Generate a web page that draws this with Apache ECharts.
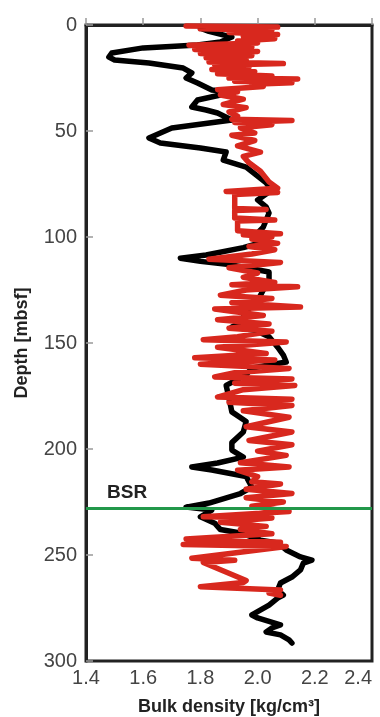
<!DOCTYPE html>
<html>
<head>
<meta charset="utf-8">
<script src="https://cdn.jsdelivr.net/npm/echarts@6/dist/echarts.min.js"></script>
<style>html,body{margin:0;padding:0;background:#fff}#c{width:380px;height:717px}</style>
</head>
<body>
<div id="c"></div>
<script>
// Black curve: [depth (mbsf), bulk density]
const blackDepth = [1.5,3,5.7,8,9.4,10.8,13.2,15.1,16.5,17.9,20.3,22.6,25.0,27.4,30.7,31.6,33.0,35.4,38.7,40.1,41.5,44.8,48.6,53.3,55.7,58.0,59.9,63.7,67.0,74.5,77.8,82.5,85.8,88.7,95.3,98.1,102,105,108.5,110,111.5,113,116.5,120,125,130,135,140.6,142.5,144,147,152,155.7,159,161.8,165,170,176,182.5,187,192,197,200.5,203.8,206.6,208.5,209.9,213,218,221,225.5,227.4,228.8,232,235,238,239.6,243,244.3,247.6,250.9,252.4,253.8,257,260.4,263.2,266.5,268.9,270.3,273.6,278.3,279.7,283,284.4,286.3,287.7,290,291.5];
const blackDensity = [1.80,1.83,1.91,1.87,1.79,1.60,1.49,1.48,1.50,1.62,1.74,1.77,1.75,1.79,1.84,1.91,1.87,1.79,1.77,1.82,1.86,1.91,1.70,1.62,1.66,1.80,1.89,1.88,1.96,2.03,2.05,2.00,2.03,2.04,2.02,2.00,2.03,1.95,1.82,1.73,1.80,1.90,2.04,2.04,2.02,2.00,1.96,1.94,1.91,1.99,2.04,2.07,2.09,2.10,1.98,1.96,1.89,1.90,1.91,1.96,1.95,1.91,1.91,1.95,1.86,1.77,1.84,1.96,1.98,1.94,1.83,1.75,1.84,1.80,1.85,1.87,1.94,2.01,2.07,2.10,2.15,2.19,2.16,2.15,2.12,2.08,2.07,2.09,2.07,2.04,1.98,2.00,2.08,2.05,2.03,2.08,2.11,2.12];
// Red curve: [depth (mbsf), bulk density]
const redDepth = [0.5,1,1.8,2.5,3.5,4.5,5.5,6.5,7.5,8.5,9.5,10.5,11.5,12.5,13.5,14.5,15.5,16.5,17.5,18.2,19,20,21,22,23,24,25,25.5,26.5,27.3,28,29,30.5,31.5,33,35,37.5,39,41,43,44.5,45,46,47,48.5,51,52,54.5,57,60,62,65,69,74,77,78.5,79,80,83,86.5,87,87.5,91,92,92.5,97,98.5,99,100,101,103,104.5,106,108,110.5,112,114.5,117,119,121.5,122.5,123.5,125,127.5,129,131,133,134,137,139,141,143,144.5,147,148.5,149.5,152,155,157,158,160,162,164,166,167,169,170,172,175.5,176.5,178,179.5,182,185,189.5,192,196,198,201,203,206.5,208.5,210,213,215.5,216.5,219,221,223,225,227,229.5,232,232.5,234.5,236.5,238,240,242.5,244,245,246,251.5,252.5,253.5,262,263,265,266.5,268,269];
const redDensity = [1.75,2.07,1.80,2.05,1.90,2.07,1.95,2.06,1.93,2.00,1.76,1.98,1.78,2.00,1.80,1.98,1.82,1.96,1.83,2.09,1.85,1.97,1.84,1.99,1.86,2.05,1.90,2.14,1.92,2.12,1.98,2.02,1.86,1.93,1.87,1.95,1.88,1.96,1.90,1.93,1.91,2.12,1.92,2.05,1.94,1.99,1.91,1.99,1.93,2.01,1.95,1.97,2.01,2.04,2.07,1.89,2.07,1.92,1.92,1.92,2.03,1.92,1.92,2.06,1.93,1.93,2.08,1.95,2.05,1.98,2.07,1.97,2.06,1.98,1.83,2.08,1.90,2.00,1.95,2.06,1.91,2.14,1.96,1.87,2.05,1.91,2.15,1.85,2.02,1.86,2.04,1.90,2.05,1.93,1.81,2.10,1.86,2.03,1.78,2.06,1.80,2.11,1.92,1.85,2.12,1.92,2.13,1.95,1.86,2.12,1.90,2.12,1.95,2.11,1.96,2.12,1.97,2.12,2.00,2.10,1.94,2.11,1.93,2.00,1.98,2.08,1.96,2.12,1.96,2.09,1.98,2.11,1.81,2.05,1.87,2.03,1.94,2.05,1.75,2.08,1.74,2.10,1.77,1.92,1.81,1.96,1.95,1.80,2.08,2.04,2.08];
const bsrDepth = 228;
const bsrLabel = 'BSR';
const xTicks = {min: 1.4, max: 2.4, interval: 0.2};
const yTicks = {min: 0, max: 300, interval: 50};

const blackData = blackDepth.map((d, i) => [blackDensity[i], d]);
const redData = redDepth.map((d, i) => [redDensity[i], d]);

const chart = echarts.init(document.getElementById('c'), null, {renderer: 'canvas'});
const tickFont = {fontFamily: 'Liberation Sans, Arial, sans-serif', fontSize: 20, color: '#444'};
chart.setOption({
  animation: false,
  backgroundColor: '#fff',
  grid: {left: 86, right: 8, top: 25, bottom: 56, outerBoundsMode: 'none', containLabel: false, show: true, borderColor: '#222', borderWidth: 3, backgroundColor: 'transparent'},
  xAxis: {
    type: 'value', min: xTicks.min, max: xTicks.max, interval: xTicks.interval,
    name: 'Bulk density [kg/cm³]', nameLocation: 'middle', nameGap: 37,
    nameTextStyle: {fontFamily: 'Liberation Sans, Arial, sans-serif', fontSize: 18, fontWeight: 'bold', color: '#222'},
    axisLine: {show: true, lineStyle: {color: '#222', width: 3}},
    axisTick: {show: true, inside: true, length: 7, lineStyle: {color: '#999', width: 1.5}},
    axisLabel: Object.assign({margin: 7, alignMaxLabel: 'right', formatter: v => v.toFixed(1)}, tickFont),
    splitLine: {show: false}
  },
  yAxis: {
    type: 'value', inverse: true, min: yTicks.min, max: yTicks.max, interval: yTicks.interval,
    name: 'Depth [mbsf]', nameLocation: 'middle', nameGap: 55,
    nameTextStyle: {fontFamily: 'Liberation Sans, Arial, sans-serif', fontSize: 18, fontWeight: 'bold', color: '#222'},
    axisLine: {show: true, lineStyle: {color: '#222', width: 3}},
    axisTick: {show: true, inside: true, length: 7, lineStyle: {color: '#999', width: 1.5}},
    axisLabel: Object.assign({margin: 9}, tickFont),
    splitLine: {show: false}
  },
  series: [
    {
      type: 'line', data: blackData, symbol: 'none', smooth: false,
      lineStyle: {color: '#000', width: 5.5, join: 'round', cap: 'round'},
      z: 2,
      markLine: {
        silent: true, symbol: 'none',
        lineStyle: {color: '#22984a', width: 3, type: 'solid'},
        label: {show: true, position: 'insideStartTop', formatter: bsrLabel, fontFamily: 'Liberation Sans, Arial, sans-serif', fontSize: 19, fontWeight: 'bold', color: '#222', distance: [21, 6]},
        data: [{yAxis: bsrDepth}]
      }
    },
    {
      type: 'line', data: redData, symbol: 'none', smooth: false,
      lineStyle: {color: '#d8281e', width: 5.5, join: 'round', cap: 'round'},
      z: 3
    }
  ]
});
</script>
</body>
</html>
